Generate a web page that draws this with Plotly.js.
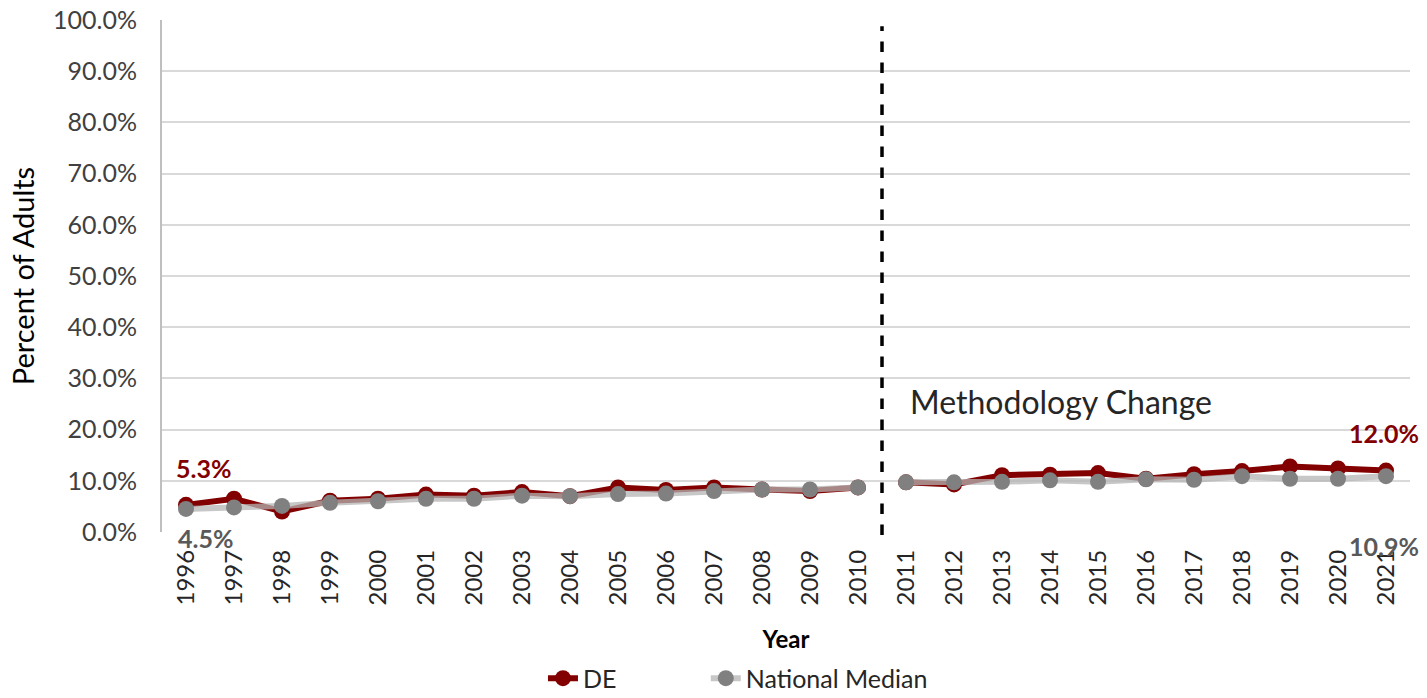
<!DOCTYPE html>
<html>
<head>
<meta charset="utf-8">
<script src="https://cdn.plot.ly/plotly-3.0.1.min.js"></script>
<style>html,body{margin:0;padding:0;background:#fff;}#chart{width:1427px;height:698px;}</style>
</head>
<body>
<div id="chart"></div>
<script>
const years = ["1996","1997","1998","1999","2000","2001","2002","2003","2004","2005","2006","2007","2008","2009","2010","2011","2012","2013","2014","2015","2016","2017","2018","2019","2020","2021"];
const deValues = [5.3,6.5,4.0,6.1,6.5,7.3,7.1,7.8,7.0,8.7,8.2,8.7,8.3,8.0,8.7,9.7,9.3,11.1,11.2,11.5,10.4,11.3,11.9,12.8,12.4,12.0];
const nationalValues = [4.5,4.8,5.1,5.7,6.0,6.5,6.5,7.1,7.0,7.4,7.5,8.0,8.3,8.3,8.7,9.7,9.7,9.8,10.1,9.8,10.3,10.2,10.9,10.4,10.4,10.9];
const splitIndex = 15; // first year after methodology change (2011)

const FONT = "Lato, 'Open Sans', sans-serif";
const RED = "#820000";
const GRAYM = "#808080";
const GRAYL = "rgba(180,180,180,0.75)";

function seg(arr, a, b){ return arr.slice(a, b); }

const traces = [];
[[0, splitIndex],[splitIndex, years.length]].forEach((r, i) => {
  traces.push({
    type: "scatter", mode: "lines+markers", name: "DE", legendgroup: "de", showlegend: i === 0, legend: "legend",
    x: seg(years, r[0], r[1]), y: seg(deValues, r[0], r[1]),
    line: {color: RED, width: 6}, marker: {color: RED, size: 16}
  });
});
[[0, splitIndex],[splitIndex, years.length]].forEach((r, i) => {
  traces.push({
    type: "scatter", mode: "lines+markers", name: "National Median", legendgroup: "nm", showlegend: i === 0, legend: "legend2",
    x: seg(years, r[0], r[1]), y: seg(nationalValues, r[0], r[1]),
    line: {color: GRAYL, width: 6}, marker: {color: GRAYM, size: 16}
  });
});

const legendFont = {family: FONT, size: 25, color: "#262626"};
const last = years.length - 1;
const layout = {
  width: 1427, height: 698,
  margin: {l: 162, r: 17, t: 20, b: 166},
  paper_bgcolor: "#fff", plot_bgcolor: "#fff",
  font: {family: FONT, color: "#595959", size: 20},
  showlegend: true,
  legend: {orientation: "h", xref: "container", yref: "container", x: 0.3805, xanchor: "left", y: 0.028, yanchor: "middle",
           font: legendFont, bgcolor: "rgba(0,0,0,0)"},
  legend2: {orientation: "h", xref: "container", yref: "container", x: 0.4946, xanchor: "left", y: 0.028, yanchor: "middle",
           font: legendFont, bgcolor: "rgba(0,0,0,0)"},
  xaxis: {
    type: "category", range: [-0.5, 25.5], showgrid: false, zeroline: false, showline: false,
    tickangle: -90, ticks: "", tickfont: {family: FONT, size: 24, color: "#262626"}, automargin: false,
    ticklabelstandoff: 12,
    title: {text: "<b>Year</b>", font: {family: FONT, size: 24, color: "#000"}, standoff: 26},
    fixedrange: true
  },
  yaxis: {
    range: [0, 100], dtick: 10, tickformat: ".1f", ticksuffix: "%", automargin: false,
    showgrid: true, gridcolor: "#D9D9D9", gridwidth: 2, zeroline: false,
    showline: true, linecolor: "#BFBFBF", linewidth: 2, ticks: "", ticklabelstandoff: 18,
    tickfont: {family: FONT, size: 25, color: "#404040"},
    title: {text: "Percent of Adults", font: {family: FONT, size: 29, color: "#000"}, standoff: 10}
  },
  shapes: [{
    type: "line", xref: "x", yref: "paper", x0: splitIndex - 0.5, x1: splitIndex - 0.5, y0: -0.006, y1: 0.988,
    line: {color: "#000", width: 3.5, dash: "dash"}
  }],
  annotations: [
    {xref: "x", yref: "y", x: 0, y: deValues[0], text: "<b>" + deValues[0].toFixed(1) + "%</b>", showarrow: false,
     xshift: 17, yshift: 37, font: {family: FONT, size: 25, color: RED}},
    {xref: "x", yref: "y", x: 0, y: nationalValues[0], text: "<b>" + nationalValues[0].toFixed(1) + "%</b>", showarrow: false,
     xshift: 19, yshift: -29, font: {family: FONT, size: 25, color: "#595959"}},
    {xref: "x", yref: "y", x: last, y: deValues[last], text: "<b>" + deValues[last].toFixed(1) + "%</b>", showarrow: false,
     xshift: -2, yshift: 38, font: {family: FONT, size: 25, color: RED}},
    {xref: "x", yref: "y", x: last, y: nationalValues[last], text: "<b>" + nationalValues[last].toFixed(1) + "%</b>", showarrow: false,
     xshift: -2, yshift: -70, font: {family: FONT, size: 25, color: "#595959"}},
    {xref: "x", yref: "y", x: splitIndex, y: 25.4, text: "Methodology Change", showarrow: false, xanchor: "left", yanchor: "middle",
     xshift: 2, font: {family: FONT, size: 32, color: "#262626"}}
  ]
};

Plotly.newPlot("chart", traces, layout, {displayModeBar: false, staticPlot: true});
</script>
</body>
</html>
